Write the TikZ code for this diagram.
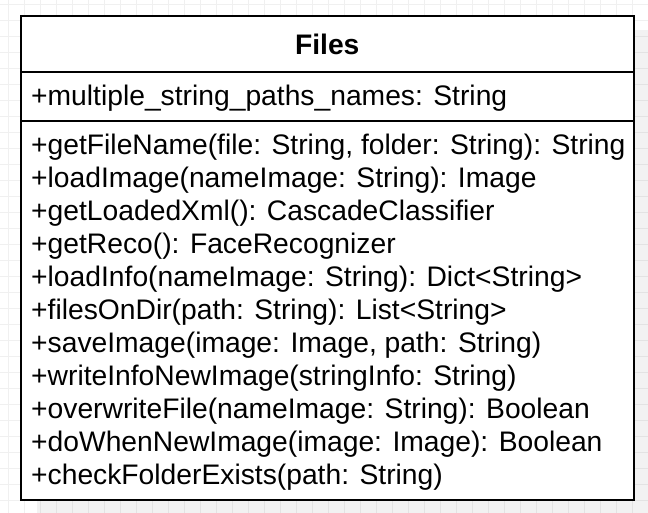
\documentclass[tikz,border=0pt]{standalone}
\usepackage{fontspec}
\setmainfont{Liberation Sans}
\begin{document}
\begin{tikzpicture}[x=1pt,y=-1pt,
  gridline/.style={draw=black!6,line width=1pt},
  classbox/.style={draw=black,line width=2pt,fill=white},
  member/.style={anchor=base west,inner sep=0pt,font=\fontsize{28.25}{33}\selectfont},
  classname/.style={inner sep=0pt,font=\fontsize{28.25}{33}\selectfont\bfseries}]
  \useasboundingbox (0,0) rectangle (648,513);
  \fill[white] (0,0) rectangle (648,513);
  % background grid
  \foreach \gx in {8.7,24.7,...,648} \draw[gridline] (\gx,0) -- (\gx,513);
  \foreach \gy in {4.7,20.7,...,513} \draw[gridline] (0,\gy) -- (648,\gy);
  % drop shadow
  \fill[black,opacity=0.05] (36.5,30) rectangle (650,515);
  % class box with its two compartments
  \draw[classbox] (20.5,16) rectangle (634,500);
  \coordinate (d1l) at (20.5,71.7);
  \coordinate (d1r) at (634,71.7);
  \coordinate (d2l) at (20.5,121);
  \coordinate (d2r) at (634,121);
  \draw[line width=2pt] (d1l) -- (d1r);
  \draw[line width=2pt] (d2l) -- (d2r);
  \node[classname] (title) at (327.25,44) {Files};
  \node[member] (attr) at (31,106) {+multiple\_string\_paths\_names: String};
  \node[member] (m1) at (31,154.6) {+getFileName(file: String, folder: String): String};
  \node[member] (m2) at (31,187.6) {+loadImage(nameImage: String): Image};
  \node[member] (m3) at (31,220.6) {+getLoadedXml(): CascadeClassifier};
  \node[member] (m4) at (31,253.6) {+getReco(): FaceRecognizer};
  \node[member] (m5) at (31,286.6) {+loadInfo(nameImage: String): Dict<String>};
  \node[member] (m6) at (31,319.6) {+filesOnDir(path: String): List<String>};
  \node[member] (m7) at (31,352.6) {+saveImage(image: Image, path: String)};
  \node[member] (m8) at (31,385.6) {+writeInfoNewImage(stringInfo: String)};
  \node[member] (m9) at (31,418.6) {+overwriteFile(nameImage: String): Boolean};
  \node[member] (m10) at (31,451.6) {+doWhenNewImage(image: Image): Boolean};
  \node[member] (m11) at (31,484.6) {+checkFolderExists(path: String)};
\end{tikzpicture}
\end{document}
